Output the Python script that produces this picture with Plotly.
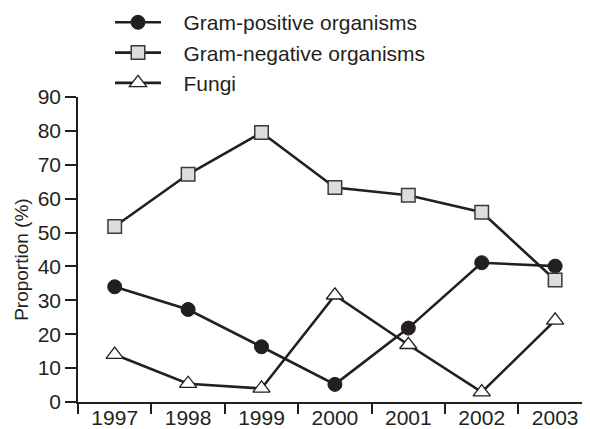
import plotly.graph_objects as go

years = ["1997", "1998", "1999", "2000", "2001", "2002", "2003"]
gram_positive = [34, 27.3, 16.3, 5.2, 21.8, 41.1, 40.1]
gram_negative = [51.8, 67.2, 79.5, 63.3, 61, 56, 36]
fungi = [14, 5.4, 4, 31.5, 16.9, 2.9, 24.1]
y_ticks = [0, 10, 20, 30, 40, 50, 60, 70, 80, 90]
series_names = ["Gram-positive organisms", "Gram-negative organisms", "Fungi"]

INK = "#231f20"
FONT = "Liberation Sans, Arial, Helvetica, sans-serif"
PAD = "\u00a0\u00a0\u00a0"

fig = go.Figure()
fig.add_trace(go.Scatter(
    x=years, y=gram_positive, name=PAD + series_names[0], legendgroup="a",
    mode="lines+markers",
    line=dict(color=INK, width=2.6),
    marker=dict(symbol="circle", size=14, color=INK, line=dict(color=INK, width=1)),
))
fig.add_trace(go.Scatter(
    x=years, y=gram_negative, name=PAD + series_names[1], legendgroup="b",
    mode="lines+markers",
    line=dict(color=INK, width=2.6),
    marker=dict(symbol="square", size=13.5, color="#dcdddf", line=dict(color="#3a3a3a", width=1.5)),
))
fig.add_trace(go.Scatter(
    x=years, y=fungi, name=PAD + series_names[2], legendgroup="c",
    mode="lines+markers",
    line=dict(color=INK, width=2.6),
    marker=dict(symbol="triangle-up", size=15, color="white", line=dict(color=INK, width=1.3)),
))

# the page body adds an 8px margin, so the figure is 8px smaller each way
fig.update_layout(
    width=582, height=421,
    margin=dict(l=70, r=0, t=89, b=27, autoexpand=False),
    paper_bgcolor="white", plot_bgcolor="white",
    font=dict(family=FONT, size=21, color=INK),
    showlegend=True,
    legend=dict(
        xref="paper", yref="paper",
        x=0.0625, y=1.311, xanchor="left", yanchor="top",
        bgcolor="rgba(0,0,0,0)", itemwidth=46,
        tracegroupgap=5.5,
        font=dict(family=FONT, size=21, color=INK),
        traceorder="normal",
    ),
    xaxis=dict(
        type="category", range=[-0.5, 6.475],
        showline=True, linecolor=INK, linewidth=1.5,
        ticks="outside", ticklen=10, tickwidth=1.5, tickcolor=INK,
        tickson="boundaries", showgrid=False, zeroline=False,
        ticklabelstandoff=-4,
        tickfont=dict(family=FONT, size=21, color=INK),
    ),
    yaxis=dict(
        range=[0, 90], tickvals=y_ticks,
        showline=True, linecolor=INK, linewidth=1.5,
        ticks="outside", ticklen=11, tickwidth=1.5, tickcolor=INK,
        showgrid=False, zeroline=False,
        tickfont=dict(family=FONT, size=21, color=INK),
    ),
    annotations=[dict(
        text="Proportion (%)", textangle=-90, showarrow=False,
        xref="paper", yref="paper", x=0, y=0.466,
        xanchor="center", yanchor="middle", xshift=-56,
        font=dict(family=FONT, size=19, color=INK),
    )],
)

fig.write_html("out.html")
